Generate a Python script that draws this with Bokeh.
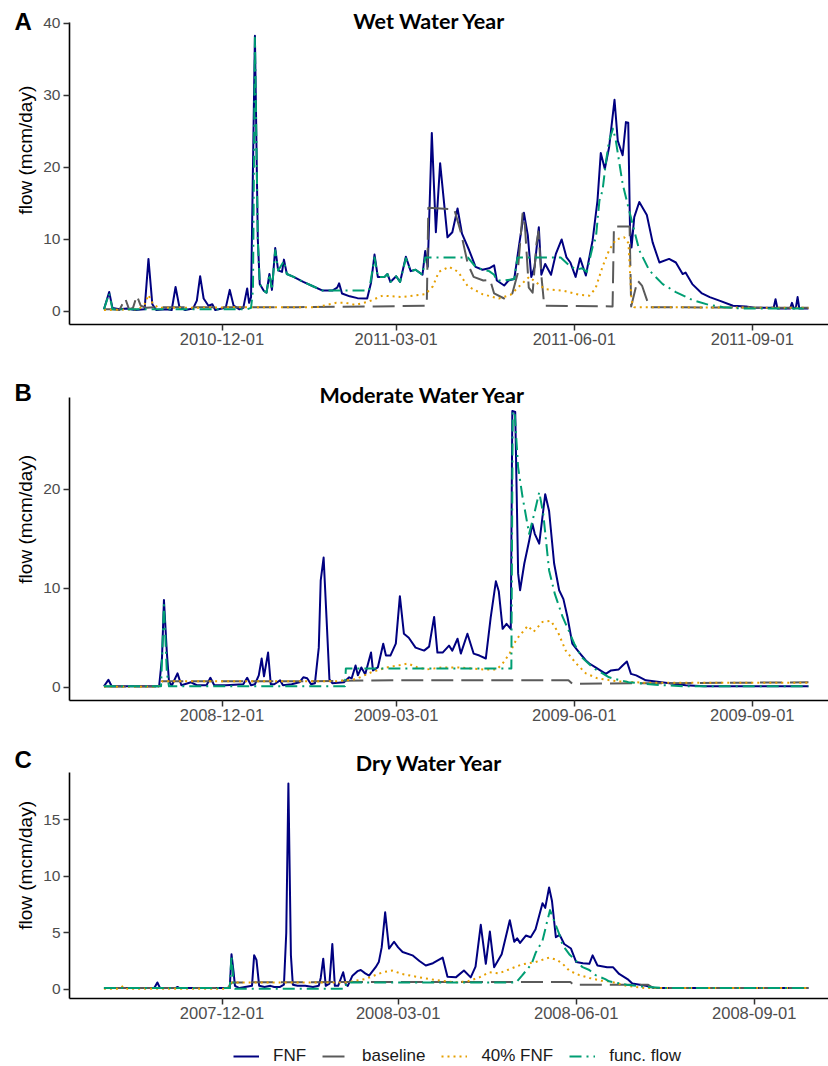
import math
import pandas as pd
from bokeh.plotting import figure
from bokeh.layouts import column, row
from bokeh.models import Range1d, FixedTicker, Label, Legend, LegendItem, ColumnDataSource
from bokeh.embed import file_html
from bokeh.resources import INLINE

# ---------------- data (day = days since 1 October of the water year) ----------------
SERIES = ["FNF", "baseline", "40% FNF", "func. flow"]

# Panel A: Wet water year (WY 2011)
FNF_A = [(0,0.3),(2.7,2.7),(4.4,0.5),(8,0.3),(12,0.4),(16,0.2),(21,0.3),(23,7.3),(25,1.0),(27,0.2),
         (32,0.3),(35,0.2),(37,3.4),(39,0.6),(42,0.2),(46,0.4),(48,1.5),(49.7,4.9),(51.5,1.8),(54,0.8),
         (56,1.0),(57.5,0.2),(61,0.4),(63,0.6),(65,3.0),(67,0.8),(70,0.3),(72,0.5),(74,3.2),(75,1.2),
         (76,2.0),(78,38.3),(79.5,10),(80.5,3.8),(82.5,2.9),(84,2.6),(85.5,5.2),(86.8,3.0),(88.5,8.8),
         (90,5.7),(92,5.5),(93,7.2),(94.5,5.2),(98,4.8),(103,4.1),(108,3.5),(113,2.9),(118,2.9),
         (120.5,3.3),(121.5,3.9),(123,2.5),(127,2.1),(131,1.85),(136,1.8),(138,4.0),(139.8,7.9),
         (141.5,4.8),(145,4.8),(146.5,5.2),(148,4.1),(151,4.9),(153,4.1),(156,7.6),(158.5,5.6),
         (161,5.8),(164.6,5.1),(166,8.4),(167.3,6.2),(169.4,24.8),(171.5,11.0),(173.7,20.6),
         (177.5,10.3),(180,11.0),(182.7,14.3),(185,10.8),(188.7,8.5),(192,6.2),(195.6,5.8),(199,6.0),
         (201.6,6.4),(203,4.3),(206.8,3.6),(209,4.3),(212,4.5),(214.6,9.4),(217,13.7),(219,10.6),
         (220.8,4.8),(222.5,6.2),(224.7,11.7),(226,5.1),(228,6.6),(231,5.1),(233.5,8.0),(236.5,10.0),
         (239,7.5),(241,6.8),(243.7,4.8),(246,7.4),(249,5.0),(252.5,9.9),(255,15.4),(256.7,22.0),
         (258.8,19.8),(261,22.8),(263.8,29.4),(265.5,23.7),(268,21.7),(269.7,26.3),(270.9,26.2),
         (271.8,11.7),(272.6,8.9),(274,13.1),(276.6,15.2),(280.5,13.4),(283.5,9.6),(287,6.8),(292,7.3),
         (295.5,6.8),(299,5.2),(300.5,5.4),(304,3.8),(309,2.5),(313,2.0),(318,1.5),(325,0.8),
         (331.7,0.7),(336.8,0.5),(346,0.5),(347,1.7),(348,0.4),(354.5,0.4),(355.5,1.2),(356.5,0.4),
         (357.5,0.5),(358.4,2.0),(359.3,0.4),(364,0.4)]
BASE_A = [(0,0.3),(4,0.3),(8,0.2),(11,1.8),(13,0.3),(15,0.5),(17,2.2),(19,0.8),(22,0.5),(26,0.6),
          (100,0.6),(140,0.7),(166.8,0.8),(167.6,14.4),(181,14.2),(184.4,11.0),(188,6.6),(191,4.8),
          (196,4.3),(199.5,4.4),(201.6,2.5),(206.8,1.8),(211,2.5),(213.7,5.2),(216.3,13.6),
          (217.5,12.0),(219.5,3.3),(221.5,2.6),(223.5,9.5),(224.5,11.1),(226,5.0),(227.5,0.8),
          (262.8,0.7),(263.5,11.8),(271.6,11.8),(272.4,0.7),(275.7,4.3),(278,3.6),(281.8,0.6),
          (364,0.5)]
PCT_A = [(0,0.2),(18,0.3),(21,1.0),(23,2.3),(25,1.2),(28,0.5),(40,0.5),(75,0.6),(110,0.6),
         (120,1.2),(125,1.2),(130,0.9),(137,1.4),(144,2.2),(154,2.0),(166,2.4),(170,3.5),(173,5.5),
         (178.4,6.2),(183,5.5),(188,3.5),(195.6,2.4),(204,1.8),(210,2.3),(214.6,3.5),(219.7,4.8),
         (224,3.9),(228,3.1),(237,2.9),(246,2.3),(250.8,2.2),(254,3.2),(257.6,6.2),(261,8.5),
         (264.5,10.0),(268.8,10.3),(271,9.5),(272.6,1.5),(274,0.6),(364,0.5)]
FUNC_A = [(0,0.3),(2.7,2.5),(4.4,0.3),(74,0.3),(76,0.5),(77,3.0),(78,38.0),(79.5,10),(80.5,3.8),
          (82.5,2.9),(84,2.6),(85.5,5.2),(86.8,3.0),(88.5,8.5),(90,5.7),(93,7.0),(94.5,5.2),(98,4.8),
          (103,4.1),(108,3.5),(113,2.9),(137,2.9),(139.8,7.5),(141.5,4.8),(145,4.8),(146.5,5.2),
          (148,4.1),(151,4.9),(153,4.1),(156,7.4),(158.5,5.6),(161,5.8),(164.6,5.1),(166,7.5),
          (188,7.5),(192,6.2),(195.6,5.8),(199,5.6),(201.6,5.1),(203,4.3),(206.8,4.3),(212,4.5),
          (213.7,7.5),(236,7.5),(240,6.5),(244,5.8),(247,6.0),(249.5,5.5),(252.5,9.0),(254.2,10.3),
          (256,15.4),(257.6,16.8),(259.5,21.0),(261,23.7),(263,25.4),(264.5,23.7),(268,17.7),
          (271.4,14.0),(276.6,8.5),(281.8,5.7),(288.7,3.8),(295.5,2.7),(304,1.6),(312.8,0.9),
          (320,0.6),(330,0.4),(364,0.4)]

# Panel B: Moderate water year (WY 2009)
FNF_B = [(0,0.1),(2.3,0.75),(4,0.1),(28.5,0.1),(30,3.0),(31,8.8),(32.5,3.5),(33.6,0.6),(35,0.15),
         (38,1.4),(40,0.2),(45,0.5),(48,0.2),(53,0.2),(55,0.95),(57,0.2),(63,0.2),(72,0.3),(74,0.95),
         (76,0.2),(78,0.3),(80,1.2),(81.5,2.9),(82.7,1.1),(84.8,3.5),(86.2,0.3),(88,0.3),(91,0.7),
         (92.5,0.2),(97,0.3),(101,0.5),(103,1.0),(105,0.9),(107,0.3),(109,0.4),(111,4.0),(112,10.8),
         (113.5,13.1),(115,7.0),(116.5,0.8),(118,0.4),(124,0.5),(126.7,1.0),(128,0.9),(130,2.2),
         (131.2,1.2),(133,2.0),(135,1.3),(138,3.5),(139,1.7),(141.5,2.0),(144.3,4.4),(145.7,3.2),
         (148,3.2),(150.8,4.4),(152.9,9.2),(155,5.4),(157.5,5.0),(161,4.0),(165.4,3.7),(168,4.1),
         (170.6,7.1),(172.3,3.5),(175,3.5),(178.3,4.2),(180,3.7),(182.7,4.9),(184.4,3.4),(187.8,5.4),
         (191,3.4),(194,3.2),(197.3,2.9),(199.8,7.0),(202.5,10.7),(204,9.7),(206,5.9),(208,6.4),
         (210.2,5.9),(211,27.9),(212.5,27.8),(214,11.5),(215,9.8),(217.2,12.5),(219.7,14.8),
         (221.4,16.5),(222.6,15.5),(224.9,14.5),(228,19.5),(230,17.8),(232.6,12.5),(235.2,9.8),
         (237.4,8.9),(239.5,7.1),(242,4.4),(245.6,3.5),(249,2.7),(250.8,2.4),(254,2.0),(259.3,1.35),
         (262,1.7),(266,1.8),(268,2.2),(270.2,2.6),(272.3,1.35),(275,1.2),(280,0.7),(288,0.5),
         (300.6,0.2),(310,0.1),(364,0.1)]
BASE_B = [(0,0.07),(28,0.07),(30,0.6),(100,0.6),(150,0.7),(240,0.7),(242,0.35),(280,0.4),(364,0.5)]
PCT_B = [(0,0.05),(28,0.05),(30,0.6),(120,0.6),(130,0.8),(138,1.5),(146,2.0),(152,2.2),(157,2.4),
         (162,2.0),(167,1.8),(175,2.0),(183,2.0),(190,1.9),(196,1.8),(203,1.8),(206,2.4),(209.6,3.4),
         (213,4.8),(219,6.2),(222,5.6),(226.6,6.6),(231,6.7),(234.5,5.6),(238.6,3.7),(244,2.4),
         (249,1.4),(255,0.9),(265,0.6),(280,0.45),(364,0.45)]
FUNC_B = [(0,0.1),(29.5,0.1),(31,8.3),(32.5,1.5),(33.6,0.1),(124.5,0.1),(125,1.9),(210.5,1.9),
          (211.2,27.9),(212.3,27.5),(214,22.2),(216.3,19.2),(219.7,15.5),(222.3,17.5),(224.9,19.7),
          (227,17.5),(230,11.8),(233,9.4),(237,7.1),(240.4,5.6),(243,4.4),(247,3.0),(252.5,2.0),
          (261,1.0),(271,0.5),(285,0.25),(300,0.1),(364,0.1)]

# Panel C: Dry water year (WY 2008)
FNF_C = [(0,0.1),(26,0.1),(27.6,0.6),(29,0.1),(37,0.1),(38,0.2),(39,0.1),(65,0.1),(65.9,3.1),
         (67,1.5),(67.7,0.3),(70,0.1),(76.5,0.3),(77.6,3.0),(78.8,2.6),(80.2,0.3),(83,0.2),(86,0.3),
         (88,0.2),(91,0.2),(93,0.4),(94.2,5.0),(95.3,18.2),(96.6,3.0),(97.6,0.4),(100,0.3),(104,0.3),
         (108,0.2),(111,0.3),(112,1.0),(113.3,2.7),(114.6,0.3),(116.5,0.5),(118,4.0),(119.3,0.3),
         (121,0.3),(123.6,1.5),(125,0.4),(126,0.3),(128.4,1.2),(131,1.6),(132.7,1.7),(135,1.4),
         (137,1.2),(140.4,1.95),(142,2.4),(143.5,3.7),(145.3,6.8),(147.3,3.6),(149.9,4.2),(152,3.7),
         (154.3,3.3),(159.4,3.0),(163,2.5),(166.3,2.1),(170,2.3),(175,2.8),(177.5,1.1),(181.8,1.05),
         (186,1.65),(189.5,1.05),(192,2.0),(194.7,5.7),(197.3,2.25),(199.4,5.1),(201.6,1.95),
         (205.5,3.1),(209.7,6.1),(212,4.2),(213.5,4.5),(215,4.1),(218,4.75),(220.5,4.6),(223,5.3),
         (226.6,7.6),(228,7.2),(230,9.0),(231.5,7.8),(233.5,4.6),(235.5,4.8),(237.8,4.0),(241.3,3.6),
         (244,2.4),(247.5,2.3),(250.8,2.25),(252.5,3.0),(255,2.1),(260,1.95),(263,1.95),(266.2,1.35),
         (270.5,0.9),(273,0.5),(280,0.3),(285,0.1),(364,0.1)]
BASE_C = [(0,0.1),(64,0.1),(66,0.6),(140,0.65),(200,0.65),(241,0.65),(242.5,0.4),(281,0.4),
          (284,0.1),(364,0.1)]
PCT_C = [(0,0.05),(8,0.05),(10,0.3),(12,0.05),(64,0.05),(66,0.6),(125,0.6),(135,0.9),(144,1.5),
         (149,1.65),(154,1.35),(163,1.05),(172,0.8),(181,0.6),(188,0.7),(194,1.05),(199,1.5),
         (204,1.4),(210,1.8),(216,2.2),(223,2.4),(230,2.8),(234,2.6),(237,2.25),(240.4,1.65),
         (245.6,1.25),(250.8,1.0),(257,0.75),(261,0.7),(270,0.3),(280,0.1),(364,0.1)]
FUNC_C = [(0,0.1),(65,0.1),(65.9,3.0),(67,0.5),(67.7,0.05),(124.5,0.05),(125.5,0.6),(213,0.6),
          (216,1.2),(221,2.25),(223,3.2),(226.6,4.3),(229,6.0),(230.5,7.0),(232,6.3),(235.2,4.9),
          (237,3.9),(240.4,3.1),(244,2.5),(247.3,1.95),(250.8,1.7),(254,1.25),(259,0.9),(261,0.7),
          (270,0.4),(280,0.2),(290,0.1),(364,0.1)]

LETTERS = ["A", "B", "C"]
TITLES = ["Wet Water Year", "Moderate Water Year", "Dry Water Year"]
Y_LABEL = "flow (mcm/day)"
WY_START = ["2010-10-01", "2008-10-01", "2007-10-01"]
X_TICKS = [["2010-12-01", "2011-03-01", "2011-06-01", "2011-09-01"],
           ["2008-12-01", "2009-03-01", "2009-06-01", "2009-09-01"],
           ["2007-12-01", "2008-03-01", "2008-06-01", "2008-09-01"]]
Y_TICKS = [[0, 10, 20, 30, 40], [0, 10, 20], [0, 5, 10, 15]]
DATA = [[FNF_A, BASE_A, PCT_A, FUNC_A], [FNF_B, BASE_B, PCT_B, FUNC_B], [FNF_C, BASE_C, PCT_C, FUNC_C]]

# ---------------- styles / layout ----------------
STYLE = {
    "FNF": dict(line_color="#000080", line_dash="solid", line_width=2.0),
    "baseline": dict(line_color="#5a5a5a", line_dash="22 8", line_width=2.0),
    "40% FNF": dict(line_color="#E69F00", line_dash="2 4", line_width=2.0),
    "func. flow": dict(line_color="#009E73", line_dash="12 5 2 5", line_width=2.0),
}
LEFT_W = 40
# per panel: frame height, bottom border, y start, axis top (y), frame top (y), title y, title x,
#            letter y (px from panel top), axis-label centre (px from panel top)
GEOM = [
    (324, 31, -1.81, 40.14, 43.19, 40.28, 168.2, 23, 164),
    (345, 30, -1.34, 29.26, 33.51, 29.57, 164.6, 40, 178),
    (268, 30, -0.82, 19.18, 22.89, 20.02, 168.2, 32, 150),
]
X_START, X_END = -17.8, 375.4

rows = []
for i in range(3):
    fh, bot, y0, y_axis_top, y1, ty, tx, letter_y, lab_y = GEOM[i]
    H = fh + bot

    # left strip: panel letter and the y-axis title
    lf = figure(width=LEFT_W, height=H, x_range=Range1d(0, LEFT_W), y_range=Range1d(0, H),
                output_backend="svg", toolbar_location=None, min_border=0,
                x_axis_location=None, y_axis_location=None, outline_line_color=None,
                background_fill_color="white", border_fill_color="white", title=None)
    lf.xgrid.visible = False
    lf.ygrid.visible = False
    lf.add_layout(Label(x=22.6, y=H - letter_y, text=LETTERS[i], text_align="center",
                        text_baseline="middle", text_font="Liberation Sans",
                        text_font_style="bold", text_font_size="24px", text_color="black"))
    lf.add_layout(Label(x=25, y=H - lab_y, text=Y_LABEL, angle=math.pi / 2, text_align="center",
                        text_baseline="middle", text_font="Liberation Sans",
                        text_font_size="19px", text_color="black"))

    p = figure(frame_width=761, frame_height=fh,
               x_range=Range1d(X_START, X_END), y_range=Range1d(y0, y1),
               output_backend="svg", toolbar_location=None, title=None,
               min_border_left=27, min_border_right=0, min_border_top=0, min_border_bottom=bot,
               background_fill_color="white", border_fill_color="white", outline_line_color=None)
    p.xgrid.visible = False
    p.ygrid.visible = False

    start = pd.Timestamp(WY_START[i])
    tick_days = [int((pd.Timestamp(t) - start).days) for t in X_TICKS[i]]
    p.xaxis.ticker = FixedTicker(ticks=tick_days)
    p.xaxis.major_label_overrides = {d: t for d, t in zip(tick_days, X_TICKS[i])}
    p.yaxis.ticker = FixedTicker(ticks=Y_TICKS[i])
    p.yaxis.bounds = (y0, y_axis_top)

    for ax in (p.xaxis[0], p.yaxis[0]):
        ax.axis_line_color = "black"
        ax.axis_line_width = 1.6
        ax.major_tick_line_color = "#333333"
        ax.major_tick_line_width = 1.5
        ax.major_tick_out = 6
        ax.major_tick_in = 0
        ax.minor_tick_out = 0
        ax.minor_tick_in = 0
        ax.major_label_text_color = "#4d4d4d"
        ax.major_label_text_font = "Liberation Sans"
    p.xaxis.major_label_text_font_size = "16.5px"
    p.xaxis.major_label_standoff = 2
    p.yaxis.major_label_text_font_size = "15.5px"
    p.yaxis.major_label_standoff = 3

    for name, series in zip(SERIES, DATA[i]):
        src = ColumnDataSource(dict(day=[d for d, v in series], flow=[v for d, v in series]))
        p.line("day", "flow", source=src, line_join="round", **STYLE[name])

    p.add_layout(Label(x=tx, y=ty, text=TITLES[i], text_align="center", text_baseline="middle",
                       text_font="Lato", text_font_style="bold", text_font_size="21.5px",
                       text_color="black"))
    rows.append(row(lf, p, spacing=0))

# legend strip (legend-key renderers sit outside the visible range of this strip)
LEG_H = 38
lg = figure(width=828, height=LEG_H, x_range=Range1d(0, 828), y_range=Range1d(0, LEG_H),
            output_backend="svg", toolbar_location=None, min_border=0, title=None,
            x_axis_location=None, y_axis_location=None, outline_line_color=None,
            background_fill_color="white", border_fill_color="white")
lg.xgrid.visible = False
lg.ygrid.visible = False
items = []
for name in SERIES:
    r = lg.line(x=[-100, -90], y=[-100, -100], **STYLE[name])
    items.append(LegendItem(label=name, renderers=[r]))
legend = Legend(items=items, orientation="horizontal", location=(233, 0),
                glyph_width=26, glyph_height=18, label_standoff=14, spacing=16,
                padding=0, margin=0, border_line_color=None, background_fill_alpha=0,
                label_text_font="Liberation Sans", label_text_font_size="17px",
                label_text_color="#1a1a1a")
lg.add_layout(legend, "center")

layout = column(*rows, lg, spacing=0)
open("out.html", "w").write(file_html(layout, INLINE))
